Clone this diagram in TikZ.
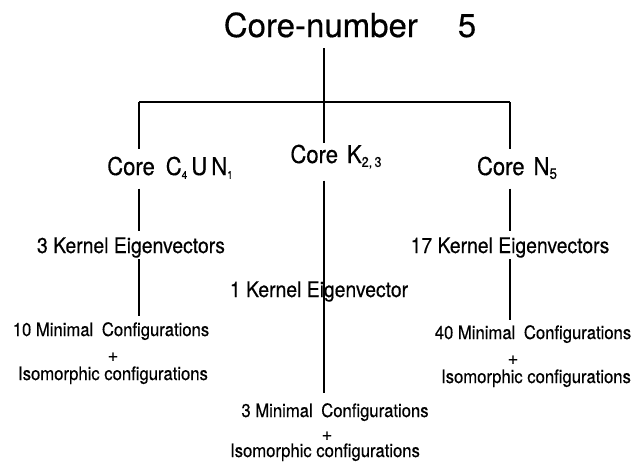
\documentclass[tikz,border=0pt]{standalone}
\usepackage{fontspec}
\setmainfont{TeX Gyre Heros}[FakeBold=0.4]
\newfontfamily\cnd{TeX Gyre Heros}[FakeStretch=0.9,FakeBold=0.4]
\usetikzlibrary{calc}
\newcommand\sbs[2]{\raisebox{-0.3ex}{\fontsize{#1}{#1}\selectfont #2}}
\begin{document}
\begin{tikzpicture}[x=1pt,y=-1pt,line width=1.3pt,
  every node/.style={inner sep=0pt,text=black},
  ttl/.style={font=\fontsize{33}{33}\selectfont,anchor=base},
  core/.style={font=\cnd\fontsize{24.5}{24.5}\selectfont,anchor=base},
  kern/.style={font=\cnd\fontsize{21.5}{21.5}\selectfont,anchor=base},
  mini/.style={font=\cnd\fontsize{18.5}{18.5}\selectfont,anchor=base},
  plus/.style={font=\fontsize{18}{18}\selectfont,anchor=center}]
\useasboundingbox (0,0) rectangle (636,466);
% nodes
\node[ttl] (t) at (350,37) {Core-number\hspace{40pt}5};
\node[core] (cl) at (170,175) {Core\hspace{11pt}C\sbs{11}{4}\,U\,N\sbs{11}{1}};
\node[core] (ck) at (336,163) {Core\hspace{9pt}K\sbs{14}{2,\,3}};
\node[core] (cn) at (517,175) {Core\hspace{9pt}N\sbs{15}{5}};
\node[kern] (k3) at (131,253) {3 Kernel Eigenvectors};
\node[kern] (k1) at (319,297) {1 Kernel Eigenvector};
\node[kern] (k17) at (510,253) {17 Kernel Eigenvectors};
\node[mini] (m10) at (111,336) {10 Minimal\hspace{4pt} Configurations};
\node[plus] (p10) at (113,357) {+};
\node[mini] (i10) at (113,380) {Isomorphic configurations};
\node[mini] (m40) at (533,339) {40 Minimal\hspace{4pt} Configurations};
\node[plus] (p40) at (513,360) {+};
\node[mini] (i40) at (536,383) {Isomorphic configurations};
\node[mini] (m3) at (335,417) {3 Minimal\hspace{4pt} Configurations};
\node[plus] (p3) at (327,436) {+};
\node[mini] (i3) at (325,457) {Isomorphic configurations};
% junctions
\coordinate (jl) at (139,102);
\coordinate (jm) at (324,102);
\coordinate (jr) at (510,102);
% connectors
\draw (jl) -- (jr);
\draw ($(t.south -| jm)+(0,10)$) -- ($(ck.north -| jm)+(0,-1)$);
\draw (jl) -- ($(cl.north -| jl)+(0,-7)$);
\draw ($(cl.south -| jl)+(0,9)$) -- ($(k3.north -| jl)+(0,-6)$);
\draw ($(k3.south -| jl)+(0,1)$) -- ($(m10.north -| jl)+(0,-6)$);
\draw ($(ck.south -| jm)+(0,11)$) -- ($(m3.north -| jm)+(0,-10)$);
\draw (jr) -- ($(cn.north -| jr)+(0,-7)$);
\draw ($(cn.south -| jr)+(0,9)$) -- ($(k17.north -| jr)+(0,-6)$);
\draw ($(k17.south -| jr)+(0,1)$) -- ($(m40.north -| jr)+(0,-5)$);
\end{tikzpicture}
\end{document}
